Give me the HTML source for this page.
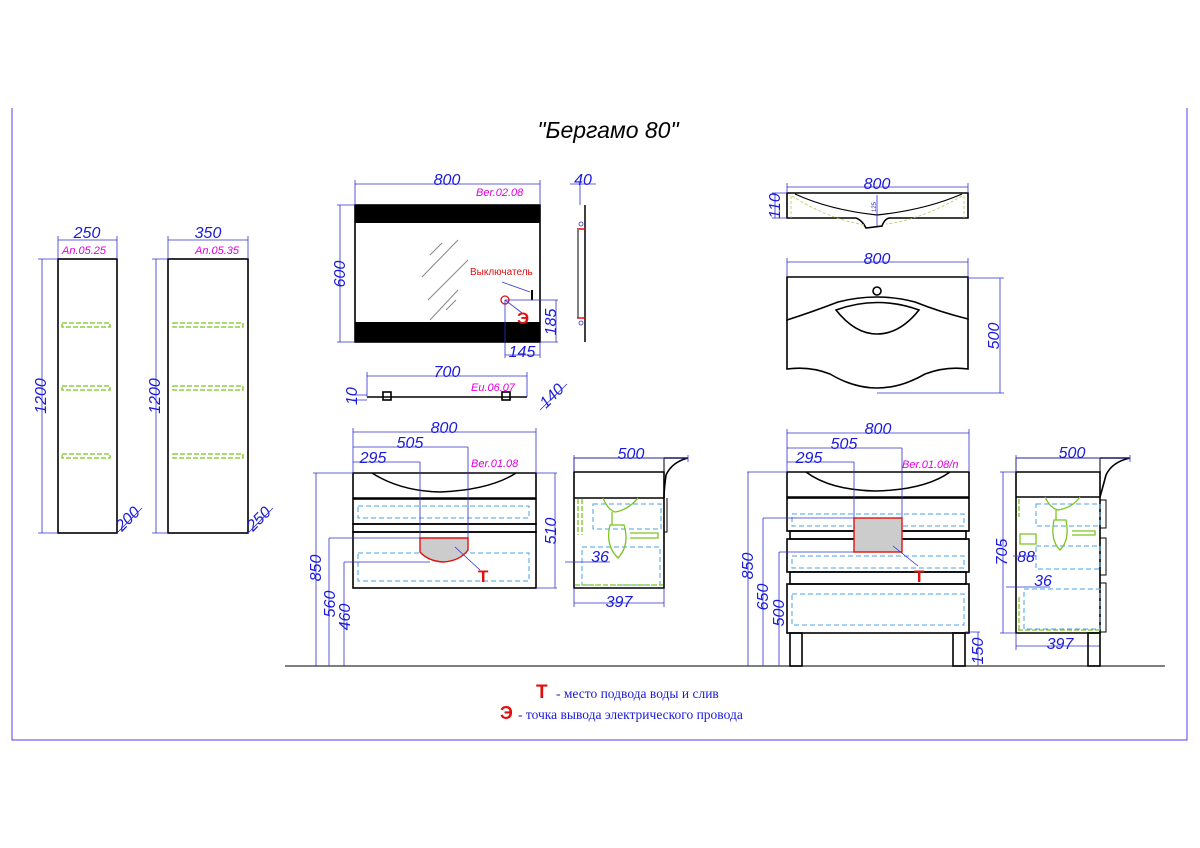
<!DOCTYPE html>
<html><head><meta charset="utf-8"><style>
html,body{margin:0;padding:0;background:#fff;}
svg{display:block;}
.d{stroke:#3030d0;stroke-width:0.8;fill:none;}
.k{stroke:#000;stroke-width:1.6;fill:none;}
.t{font-family:"Liberation Sans",sans-serif;font-style:italic;fill:#1a1adc;font-size:16px;}
.m{font-family:"Liberation Sans",sans-serif;font-style:italic;fill:#e000e0;font-size:11px;}
.bl{stroke:#4aa0e8;stroke-width:1;fill:none;stroke-dasharray:5,3;}
.g{stroke:#7ac520;stroke-width:1.3;fill:none;stroke-dasharray:5,2;}
</style></head><body>
<svg width="1200" height="848" viewBox="0 0 1200 848" xmlns="http://www.w3.org/2000/svg">
<path d="M12 108 V740 H1187 V108" stroke="#5a3cf0" stroke-width="1" fill="none"/>
<text x="608" y="138" text-anchor="middle" font-family="Liberation Sans,sans-serif" font-style="italic" font-size="23" fill="#000">"Бергамо 80"</text>

<!-- cabinet 1 -->
<rect x="58" y="259" width="59" height="274" class="k"/>
<path class="d" d="M58 240 H117 M58 236 V259 M117 236 V259 M38 259 H58 M42 259 V533 M38 533 H58"/>
<text class="t" x="87" y="238" text-anchor="middle">250</text>
<text class="m" x="62" y="254">An.05.25</text>
<text class="t" transform="translate(46,396) rotate(-90)" text-anchor="middle">1200</text>
<path class="g" d="M62 323 H110 V327 H62Z M62 386 H110 V390 H62Z M62 454 H110 V458 H62Z"/>
<text class="t" transform="translate(122,532) rotate(-45)">200</text>
<path class="d" d="M117 533 L142 508"/>
<!-- cabinet 2 -->
<rect x="168" y="259" width="80" height="274" class="k"/>
<path class="d" d="M168 240 H248 M168 236 V259 M248 236 V259 M152 259 H168 M156 259 V533 M152 533 H168"/>
<text class="t" x="208" y="238" text-anchor="middle">350</text>
<text class="m" x="195" y="254">An.05.35</text>
<text class="t" transform="translate(160,396) rotate(-90)" text-anchor="middle">1200</text>
<path class="g" d="M173 323 H243 V327 H173Z M173 386 H243 V390 H173Z M173 454 H243 V458 H173Z"/>
<text class="t" transform="translate(253,532) rotate(-45)">250</text>
<path class="d" d="M248 533 L273 508"/>

<!-- mirror -->
<rect x="355" y="205" width="185" height="137" class="k"/>
<rect x="355" y="205" width="185" height="18" fill="#000"/>
<rect x="355" y="322" width="185" height="20" fill="#000"/>
<path class="d" d="M355 184 H540 M355 180 V205 M540 180 V205 M337 205 H355 M340 205 V342 M337 342 H355"/>
<text class="t" x="447" y="185" text-anchor="middle">800</text>
<text class="m" x="476" y="196" font-size="12">Ber.02.08</text>
<text class="t" transform="translate(345,274) rotate(-90)" text-anchor="middle">600</text>
<path stroke="#888" stroke-width="1" d="M430 255 L442 243 M422 277 L458 240 M428 300 L468 260 M430 320 L458 290 M446 310 L456 300"/>
<text x="470" y="275" font-family="Liberation Sans,sans-serif" font-size="10" fill="#e01010">Выключатель</text>
<path stroke="#3030d0" stroke-width="0.8" d="M502 282 L530 292"/>
<path stroke="#000" stroke-width="2" d="M532 290 V300"/>
<circle cx="505" cy="300" r="4" stroke="#e01010" stroke-width="1.3" fill="none"/>
<path class="d" d="M505 300 L522 313"/>
<text x="517" y="324" font-family="Liberation Sans,sans-serif" font-weight="bold" font-size="17" fill="#e01010">Э</text>
<path class="d" d="M505 300 V358 M505 300 H558 M556 300 V342 M540 342 H558 M540 342 V358 M505 355 H540"/>
<text class="t" transform="translate(556,322) rotate(-90)" text-anchor="middle">185</text>
<text class="t" x="522" y="357" text-anchor="middle">145</text>
<path stroke="#000" stroke-width="1.5" d="M585 205 V342"/>
<path stroke="#000" stroke-width="1" d="M578 230 V318"/>
<path stroke="#e01010" stroke-width="1.5" d="M577 229 H585 M577 318 H585"/>
<circle cx="581" cy="224" r="2" stroke="#3030d0" fill="none" stroke-width=".8"/>
<circle cx="581" cy="323" r="2" stroke="#3030d0" fill="none" stroke-width=".8"/>
<path class="d" d="M570 184 H596 M580 184 V205"/>
<text class="t" x="583" y="185" text-anchor="middle">40</text>
<!-- shelf -->
<path stroke="#000" stroke-width="1.5" d="M367 397 H527"/>
<rect x="383" y="392" width="8" height="8" class="k" stroke-width="1"/>
<rect x="502" y="392" width="8" height="8" class="k" stroke-width="1"/>
<path class="d" d="M367 376 H527 M367 372 V397 M527 372 V397 M352 395 H367 M352 400 H367"/>
<text class="t" x="447" y="377" text-anchor="middle">700</text>
<text class="m" x="471" y="391" font-size="12">Eu.06.07</text>
<text class="t" transform="translate(357,405) rotate(-90)">10</text>
<text class="t" transform="translate(546,409) rotate(-45)">140</text>
<path class="d" d="M540 410 L567 384"/>

<!-- basin side -->
<path class="k" d="M787 193 H968 V218 H890 Q885 218 882 226 L866 228 Q862 220 856 218 H787Z"/>
<path stroke="#000" stroke-width="1.2" fill="none" d="M795 194 Q830 210 877 215 Q925 210 962 194"/>
<path stroke="#b8c860" stroke-width="0.8" fill="none" stroke-dasharray="3,2" d="M791 196 V218 M964 196 V218 M792 196 Q830 220 866 225 M962 196 Q920 220 886 224"/>
<path class="d" d="M787 187 H968 M787 183 V193 M968 183 V193 M772 193 H787 M775 193 V218 M772 218 H787 M877 195 V226"/>
<text class="t" x="877" y="189" text-anchor="middle">800</text>
<text class="t" transform="translate(780,206) rotate(-90)" text-anchor="middle">110</text>
<text transform="translate(876,212) rotate(-90)" font-family="Liberation Sans,sans-serif" font-size="6" fill="#3030d0">125</text>
<!-- basin top -->
<path class="k" d="M787 277 H968 V319 Q940 312 915 302 Q877 292 838 302 Q812 312 787 320Z"/>
<path class="k" d="M787 320 V369 Q810 366 830 374 Q877 402 925 374 Q946 366 968 369 V319"/>
<path class="k" d="M836 310 Q877 295 919 310 Q900 334 877 334 Q855 334 836 310Z"/>
<circle cx="877" cy="291" r="4" class="k" stroke-width="1.3"/>
<path class="d" d="M787 262 H968 M787 258 V277 M968 258 V277 M968 278 H1004 M877 393 H1004 M1000 278 V393"/>
<text class="t" x="877" y="264" text-anchor="middle">800</text>
<text class="t" transform="translate(999,336) rotate(-90)" text-anchor="middle">500</text>

<!-- wall vanity -->
<path class="k" d="M353 473 H536 V498 H353Z"/>
<path stroke="#000" stroke-width="1.5" fill="none" d="M372 473 Q400 491 440 492 Q490 490 516 473"/>
<rect x="353" y="499" width="183" height="25" class="k"/>
<rect x="353" y="524" width="183" height="8" class="k" stroke-width="1"/>
<rect x="353" y="532" width="183" height="56" class="k"/>
<rect x="358" y="506" width="171" height="12" class="bl"/>
<rect x="358" y="553" width="171" height="28" class="bl"/>
<path d="M420 538 H468 V550 Q460 561 443 562 Q428 561 420 552Z" fill="#ccc" stroke="#e01010" stroke-width="1.4"/>
<path class="d" d="M455 547 L480 570"/>
<text x="478" y="582" font-family="Liberation Sans,sans-serif" font-weight="bold" font-size="17" fill="#e01010">T</text>
<path class="d" d="M353 432 H536 M353 428 V473 M536 428 V473 M353 447 H468 M468 447 V538 M353 462 H420 M420 462 V538
 M313 473 H353 M316 473 V666 M329 538 H420 M329 538 V666 M344 562 H430 M344 562 V666 M536 473 H557 M536 588 H557 M555 473 V588"/>
<text class="t" x="444" y="433" text-anchor="middle">800</text>
<text class="t" x="410" y="448" text-anchor="middle">505</text>
<text class="t" x="373" y="463" text-anchor="middle">295</text>
<text class="m" x="471" y="467" font-size="12">Ber.01.08</text>
<text class="t" transform="translate(321,568) rotate(-90)" text-anchor="middle">850</text>
<text class="t" transform="translate(335,604) rotate(-90)" text-anchor="middle">560</text>
<text class="t" transform="translate(350,617) rotate(-90)" text-anchor="middle">460</text>
<text class="t" transform="translate(556,531) rotate(-90)" text-anchor="middle">510</text>
<!-- wall side -->
<path class="k" d="M574 472 H664 V498 H574Z M574 498 V588 H664 V498"/>
<path class="k" d="M664 458 H688 Q672 462 666 475 Q664 490 664 498" stroke-width="1.2"/>
<path stroke="#000" stroke-width="1" fill="none" d="M664 472 V458 H574 V472"/>
<path stroke="#000" stroke-width="1" fill="none" d="M664 532 H667 V498 M664 532 V588"/>
<rect x="593" y="504" width="68" height="25" class="bl"/>
<rect x="582" y="547" width="78" height="38" class="bl"/>
<path class="g" d="M578 499 V535 M582 499 V535 M575 585 H663"/>
<path stroke="#7ac520" stroke-width="1.3" fill="none" d="M603 498 Q608 510 615 512 Q628 510 638 498 M612 512 V525 M610 525 Q605 545 618 558 Q630 545 624 525Z M630 533 H658 V538 H630"/>
<path class="d" d="M574 458 H688 M574 455 V472 M688 455 V462 M565 562 H610 M574 588 V607 M664 588 V607 M574 603 H664"/>
<text class="t" x="631" y="459" text-anchor="middle">500</text>
<text class="t" x="600" y="562" text-anchor="middle">36</text>
<text class="t" x="619" y="607" text-anchor="middle">397</text>

<path stroke="#333" stroke-width="1.2" d="M285 666 H1165"/>

<!-- floor vanity -->
<path class="k" d="M787 472 H969 V497 H787Z"/>
<path stroke="#000" stroke-width="1.5" fill="none" d="M806 472 Q830 490 875 491 Q925 490 950 472"/>
<rect x="787" y="498" width="182" height="33" class="k"/>
<rect x="790" y="531" width="176" height="8" class="k" stroke-width="1"/>
<rect x="787" y="539" width="182" height="33" class="k"/>
<rect x="790" y="572" width="176" height="12" class="k" stroke-width="1"/>
<rect x="787" y="584" width="182" height="49" class="k"/>
<rect x="792" y="514" width="172" height="12" class="bl"/>
<rect x="792" y="556" width="172" height="12" class="bl"/>
<rect x="792" y="594" width="172" height="31" class="bl"/>
<rect x="790" y="633" width="12" height="33" class="k" stroke-width="1.3"/>
<rect x="953" y="633" width="12" height="33" class="k" stroke-width="1.3"/>
<rect x="854" y="518" width="48" height="34" fill="#ccc" stroke="#e01010" stroke-width="1.4"/>
<path class="d" d="M893 546 L918 566"/>
<text x="914" y="582" font-family="Liberation Sans,sans-serif" font-weight="bold" font-size="17" fill="#e01010">T</text>
<path class="d" d="M787 433 H969 M787 429 V472 M969 429 V472 M787 448 H902 M902 448 V518 M787 462 H854 M854 462 V518
 M747 472 H787 M748 472 V666 M763 518 H854 M763 518 V666 M779 552 H854 M779 552 V666 M965 632 H980 M978 632 V666"/>
<text class="t" x="878" y="434" text-anchor="middle">800</text>
<text class="t" x="844" y="449" text-anchor="middle">505</text>
<text class="t" x="809" y="463" text-anchor="middle">295</text>
<text class="m" x="902" y="468" font-size="12">Ber.01.08/n</text>
<text class="t" transform="translate(753,566) rotate(-90)" text-anchor="middle">850</text>
<text class="t" transform="translate(768,597) rotate(-90)" text-anchor="middle">650</text>
<text class="t" transform="translate(784,613) rotate(-90)" text-anchor="middle">500</text>
<text class="t" transform="translate(983,651) rotate(-90)" text-anchor="middle">150</text>
<!-- floor side -->
<path class="k" d="M1016 472 H1100 V497 H1016Z M1016 497 V633 H1100 V497"/>
<path class="k" stroke-width="1.2" d="M1100 458 H1130 Q1112 462 1106 475 Q1102 490 1100 497"/>
<path stroke="#000" stroke-width="1" fill="none" d="M1100 472 V458 H1016 V472"/>
<path stroke="#000" stroke-width="1" fill="none" d="M1100 500 H1106 V528 H1100 M1100 538 H1106 V575 H1100 M1100 583 H1106 V632 H1100"/>
<rect x="1036" y="504" width="64" height="22" class="bl"/>
<rect x="1036" y="546" width="64" height="23" class="bl"/>
<rect x="1024" y="589" width="76" height="40" class="bl"/>
<path class="g" d="M1019 499 V517 M1019 597 V632 M1018 630 H1100"/>
<path stroke="#7ac520" stroke-width="1.3" fill="none" d="M1045 497 Q1050 508 1058 510 Q1072 508 1080 497 M1056 510 V520 M1054 520 Q1050 540 1060 550 Q1070 540 1066 520Z M1072 531 H1095 V535 H1072 M1020 534 H1036 V544 H1020Z"/>
<path class="d" d="M1016 458 H1130 M1016 455 V472 M1130 455 V462 M1000 472 H1016 M1000 633 H1016 M1003 472 V633 M1013 556 H1036 M1006 587 H1050 M1016 633 V650 M1100 633 V650 M1016 646 H1100"/>
<rect x="1088" y="633" width="12" height="33" class="k" stroke-width="1.3"/>
<text class="t" x="1072" y="458" text-anchor="middle">500</text>
<text class="t" transform="translate(1007,552) rotate(-90)" text-anchor="middle">705</text>
<text class="t" x="1026" y="562" text-anchor="middle">88</text>
<text class="t" x="1043" y="586" text-anchor="middle">36</text>
<text class="t" x="1060" y="649" text-anchor="middle">397</text>

<!-- legend -->
<text x="536" y="698" font-family="Liberation Sans,sans-serif" font-weight="bold" font-size="19" fill="#e01010">T</text>
<text x="556" y="698" font-family="Liberation Serif,serif" font-size="13.5" fill="#1a1adc">- место подвода воды и слив</text>
<text x="500" y="719" font-family="Liberation Sans,sans-serif" font-weight="bold" font-size="18" fill="#e01010">Э</text>
<text x="518" y="719" font-family="Liberation Serif,serif" font-size="13.5" fill="#1a1adc">-  точка вывода электрического провода</text>
</svg>
</body></html>
